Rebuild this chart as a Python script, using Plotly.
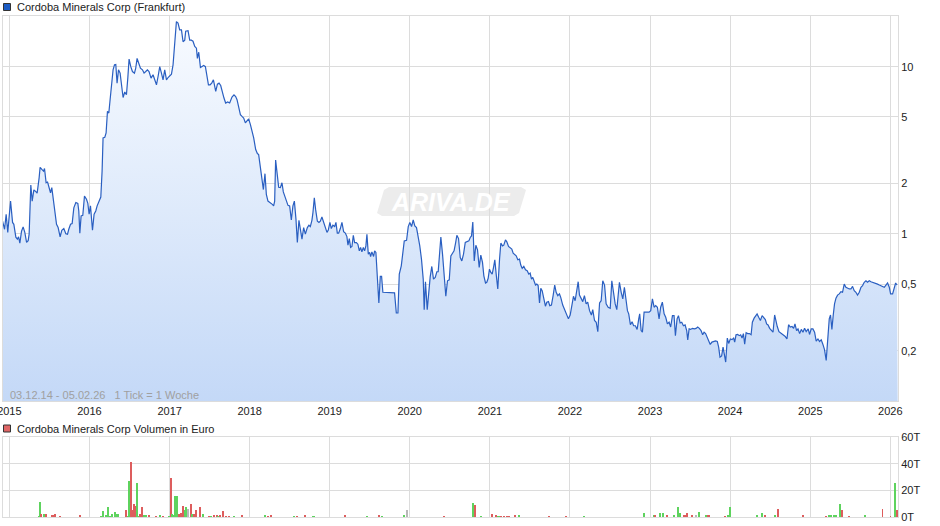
import pandas as pd
import plotly.graph_objects as go

# ---------------- data ----------------
price_years = [
2014.915,2014.94,2014.96,2014.98,2015.015,2015.04,2015.056,2015.081,2015.10,2015.115,2015.131,2015.152,2015.172,2015.193,2015.215,2015.235,2015.247,2015.268,2015.285,2015.306,
2015.331,2015.347,2015.372,2015.384,2015.406,2015.427,2015.439,2015.459,2015.477,2015.497,2015.514,2015.53,2015.547,2015.568,2015.589,2015.609,2015.634,2015.655,2015.68,2015.705,
2015.726,2015.742,2015.764,2015.784,2015.805,2015.83,2015.855,2015.867,2015.88,2015.896,2015.917,2015.938,2015.963,2015.98,2015.996,2016.013,2016.038,2016.058,2016.079,2016.096,
2016.12,2016.142,2016.158,2016.17,2016.192,2016.208,2016.225,2016.242,2016.258,2016.279,2016.295,2016.313,2016.329,2016.345,2016.363,2016.383,2016.404,2016.42,2016.441,2016.462,
2016.479,2016.495,2016.516,2016.537,2016.562,2016.578,2016.595,2016.62,2016.637,2016.662,2016.682,2016.703,2016.724,2016.744,2016.769,2016.794,2016.819,2016.837,2016.857,2016.878,
2016.899,2016.919,2016.94,2016.962,2016.982,2017.003,2017.024,2017.044,2017.065,2017.086,2017.106,2017.127,2017.149,2017.169,2017.19,2017.202,2017.231,2017.252,2017.273,2017.293,
2017.315,2017.336,2017.348,2017.365,2017.386,2017.406,2017.427,2017.448,2017.468,2017.486,2017.506,2017.527,2017.548,2017.564,2017.577,2017.598,2017.618,2017.639,2017.66,2017.68,
2017.701,2017.726,2017.751,2017.78,2017.805,2017.826,2017.843,2017.868,2017.885,2017.905,2017.926,2017.947,2017.967,2017.988,2018.01,2018.03,2018.051,2018.076,2018.097,2018.113,
2018.135,2018.155,2018.172,2018.192,2018.209,2018.229,2018.259,2018.284,2018.30,2018.313,2018.325,2018.347,2018.363,2018.384,2018.404,2018.421,2018.438,2018.459,2018.479,2018.50,
2018.521,2018.541,2018.559,2018.579,2018.596,2018.616,2018.637,2018.654,2018.675,2018.696,2018.721,2018.741,2018.758,2018.778,2018.791,2018.808,2018.824,2018.846,2018.866,2018.883,
2018.903,2018.924,2018.945,2018.966,2018.983,2019.003,2019.02,2019.04,2019.062,2019.078,2019.095,2019.112,2019.133,2019.153,2019.174,2019.195,2019.215,2019.228,2019.245,2019.261,
2019.278,2019.295,2019.311,2019.333,2019.352,2019.37,2019.386,2019.402,2019.42,2019.436,2019.452,2019.465,2019.482,2019.498,2019.511,2019.527,2019.548,2019.561,2019.577,2019.595,
2019.614,2019.632,2019.648,2019.664,2019.707,2019.748,2019.789,2019.81,2019.832,2019.852,2019.869,2019.894,2019.914,2019.931,2019.96,2019.981,2020.001,2020.022,2020.043,2020.063,
2020.084,2020.105,2020.125,2020.146,2020.168,2020.18,2020.196,2020.218,2020.238,2020.255,2020.275,2020.296,2020.318,2020.338,2020.355,2020.388,2020.409,2020.43,2020.45,2020.471,
2020.493,2020.513,2020.531,2020.553,2020.573,2020.588,2020.609,2020.63,2020.65,2020.671,2020.693,2020.713,2020.738,2020.755,2020.771,2020.787,2020.805,2020.825,2020.846,2020.867,
2020.887,2020.908,2020.925,2020.946,2020.962,2020.979,2020.995,2021.012,2021.029,2021.046,2021.062,2021.079,2021.099,2021.121,2021.137,2021.158,2021.174,2021.195,2021.212,2021.233,
2021.254,2021.274,2021.291,2021.311,2021.329,2021.349,2021.37,2021.386,2021.404,2021.424,2021.445,2021.466,2021.486,2021.503,2021.52,2021.536,2021.553,2021.57,2021.586,2021.603,
2021.62,2021.636,2021.653,2021.673,2021.694,2021.711,2021.732,2021.748,2021.769,2021.79,2021.81,2021.828,2021.848,2021.869,2021.885,2021.91,2021.935,2021.957,2021.981,2022.003,
2022.023,2022.044,2022.065,2022.086,2022.103,2022.119,2022.14,2022.16,2022.181,2022.202,2022.222,2022.245,2022.268,2022.285,2022.307,2022.328,2022.348,2022.37,2022.39,2022.41,
2022.432,2022.452,2022.477,2022.503,2022.523,2022.543,2022.565,2022.585,2022.606,2022.618,2022.64,2022.66,2022.68,2022.70,2022.718,2022.734,2022.755,2022.776,2022.795,2022.817,
2022.839,2022.859,2022.871,2022.889,2022.905,2022.926,2022.946,2022.967,2022.988,2023.009,2023.03,2023.051,2023.071,2023.092,2023.113,2023.133,2023.154,2023.176,2023.196,2023.217,
2023.238,2023.258,2023.28,2023.30,2023.317,2023.338,2023.355,2023.376,2023.396,2023.417,2023.438,2023.458,2023.471,2023.488,2023.508,2023.529,2023.554,2023.575,2023.595,2023.616,
2023.637,2023.657,2023.675,2023.694,2023.712,2023.732,2023.752,2023.773,2023.793,2023.818,2023.84,2023.857,2023.874,2023.894,2023.912,2023.928,2023.945,2023.965,2023.982,2024.003,
2024.024,2024.044,2024.057,2024.074,2024.094,2024.115,2024.132,2024.149,2024.166,2024.182,2024.20,2024.22,2024.241,2024.262,2024.278,2024.30,2024.316,2024.337,2024.357,2024.378,
2024.40,2024.42,2024.44,2024.456,2024.474,2024.494,2024.515,2024.536,2024.556,2024.573,2024.589,2024.61,2024.63,2024.652,2024.673,2024.689,2024.71,2024.73,2024.751,2024.773,
2024.793,2024.81,2024.83,2024.848,2024.868,2024.889,2024.91,2024.93,2024.95,2024.975,2024.992,2025.013,2025.034,2025.055,2025.075,2025.097,2025.117,2025.138,2025.159,2025.179,
2025.20,2025.222,2025.238,2025.254,2025.271,2025.288,2025.304,2025.322,2025.342,2025.363,2025.384,2025.404,2025.425,2025.446,2025.466,2025.488,2025.509,2025.529,2025.55,2025.571,
2025.591,2025.613,2025.634,2025.654,2025.675,2025.696,2025.716,2025.738,2025.759,2025.779,2025.80,2025.821,2025.841,2025.863,2025.883,2025.904,2025.925,2025.946,2025.966,2025.988,
2026.004,2026.029,2026.05,2026.067,2026.084]

price_eur = [
1.19,1.065,1.31,1.02,1.57,1.17,1.14,0.955,0.93,0.96,0.88,1.036,1.10,1.02,0.89,0.91,0.995,1.96,1.57,1.83,
1.79,1.75,2.17,2.50,2.43,2.37,2.46,2.02,2.04,1.89,1.76,1.89,1.65,1.37,1.14,1.09,0.96,1.05,1.075,1.0,
0.995,1.065,1.14,1.15,1.43,1.54,1.52,1.37,1.01,1.28,1.29,1.68,1.61,1.52,1.31,1.47,1.05,1.31,1.37,1.47,
1.57,1.66,2.37,3.75,3.78,4.02,5.40,5.28,6.34,7.97,9.57,10.25,10.3,7.97,9.57,9.15,7.27,6.54,7.05,6.79,
8.54,11.1,10.0,9.35,9.15,9.8,11.2,10.5,9.8,9.57,9.15,9.35,9.57,9.35,8.54,8.94,8.34,7.79,8.73,10.0,
9.15,8.34,9.57,8.34,8.61,8.85,9.02,10.25,13.2,18.6,18.2,16.6,16.6,14.1,14.4,16.3,16.4,14.4,14.4,14.2,
13.2,12.9,11.2,12.2,9.88,10.0,10.15,10.0,8.94,7.79,7.79,7.97,8.34,7.61,7.11,7.86,7.97,7.71,6.95,6.49,
6.06,6.15,6.06,6.58,6.79,6.63,6.34,5.66,5.16,5.04,4.93,4.61,4.77,4.87,4.50,4.10,3.75,3.19,3.02,2.98,
2.43,2.02,1.84,2.29,1.72,1.57,1.54,1.50,1.47,1.57,2.76,2.21,1.90,1.89,2.02,1.78,1.70,1.59,1.48,1.47,
1.21,1.47,1.57,1.22,0.887,1.205,1.065,0.93,1.09,0.995,1.09,1.125,1.105,1.205,1.34,1.64,1.40,1.19,1.17,1.19,
1.26,1.17,1.105,1.02,1.055,1.17,1.075,1.125,1.105,1.17,1.01,1.01,1.075,1.17,1.03,1.01,0.963,0.855,0.937,0.829,
0.84,0.98,0.887,0.887,0.867,0.791,0.829,0.78,0.829,0.791,0.847,0.995,0.756,0.774,0.732,0.78,0.732,0.791,0.774,0.536,
0.386,0.557,0.557,0.447,0.447,0.447,0.443,0.443,0.336,0.336,0.574,0.644,0.774,0.907,0.916,1.105,1.17,1.105,1.21,1.115,
1.09,0.97,0.847,0.706,0.536,0.352,0.517,0.352,0.468,0.553,0.638,0.536,0.549,0.593,0.593,0.958,0.756,0.524,0.423,0.524,
0.531,0.738,0.756,0.791,0.887,0.98,0.937,0.722,0.689,0.756,0.887,0.895,0.907,0.951,0.972,1.177,0.689,0.855,0.802,0.63,
0.746,0.675,0.561,0.508,0.513,0.542,0.615,0.588,0.574,0.63,0.699,0.574,0.468,0.706,0.879,0.847,0.855,0.92,0.895,0.84,
0.829,0.81,0.766,0.746,0.738,0.699,0.706,0.65,0.621,0.638,0.609,0.601,0.574,0.582,0.536,0.549,0.517,0.494,0.50,0.49,
0.386,0.472,0.457,0.408,0.369,0.39,0.393,0.372,0.375,0.427,0.494,0.447,0.427,0.437,0.417,0.375,0.352,0.332,0.31,0.327,
0.375,0.423,0.398,0.447,0.517,0.43,0.408,0.393,0.427,0.381,0.39,0.347,0.327,0.352,0.303,0.296,0.26,0.386,0.398,0.524,
0.494,0.381,0.364,0.359,0.524,0.437,0.381,0.352,0.479,0.513,0.447,0.408,0.479,0.408,0.347,0.332,0.286,0.298,0.282,0.282,
0.268,0.31,0.332,0.264,0.258,0.34,0.34,0.343,0.34,0.347,0.408,0.364,0.372,0.364,0.31,0.364,0.39,0.332,0.317,0.289,
0.296,0.277,0.324,0.324,0.246,0.31,0.324,0.293,0.296,0.282,0.285,0.264,0.232,0.27,0.268,0.272,0.27,0.272,0.277,0.272,
0.264,0.249,0.258,0.253,0.241,0.233,0.218,0.225,0.227,0.229,0.227,0.21,0.183,0.186,0.21,0.186,0.171,0.238,0.221,0.235,
0.233,0.238,0.225,0.249,0.25,0.246,0.249,0.238,0.253,0.219,0.256,0.253,0.253,0.249,0.296,0.313,0.324,0.332,0.317,0.303,
0.324,0.313,0.307,0.289,0.285,0.272,0.264,0.258,0.327,0.296,0.279,0.26,0.256,0.25,0.246,0.243,0.235,0.286,0.277,0.279,
0.272,0.289,0.264,0.27,0.253,0.268,0.258,0.272,0.26,0.27,0.25,0.27,0.27,0.258,0.228,0.235,0.227,0.232,0.218,0.203,
0.175,0.241,0.31,0.327,0.268,0.327,0.381,0.412,0.43,0.437,0.451,0.447,0.50,0.479,0.472,0.468,0.468,0.485,0.457,0.447,
0.43,0.447,0.479,0.49,0.513,0.524,0.513,0.524,0.517,0.513,0.513,0.508,0.50,0.494,0.49,0.485,0.479,0.494,0.508,0.479,
0.437,0.437,0.468,0.508,0.494]

volume_years = [
2015.364,2015.384,2015.397,2015.434,2015.455,2015.527,2015.555,2015.571,2015.634,2015.883,
2016.146,2016.170,2016.204,2016.233,2016.254,2016.283,2016.316,2016.345,2016.358,2016.457,
2016.482,2016.495,2016.520,2016.532,2016.557,2016.570,2016.595,2016.612,2016.632,2016.657,
2016.682,2016.707,2016.741,2016.837,2016.887,2016.919,2016.994,2017.019,2017.031,2017.056,
2017.074,2017.094,2017.111,2017.124,2017.140,2017.174,2017.194,2017.206,2017.227,2017.268,
2017.286,2017.302,2017.336,2017.377,2017.418,2017.489,2017.502,2017.523,2017.556,2017.589,
2017.602,2017.627,2017.668,2017.705,2017.743,2017.805,2017.905,2018.197,2018.229,2018.272,
2018.554,2018.591,2018.691,2018.791,2018.803,2019.190,2019.465,2019.614,2019.657,2019.931,
2019.964,2020.425,2020.787,2020.812,2020.892,2021.024,2021.079,2021.099,2021.120,2021.142,
2021.174,2021.212,2021.237,2021.311,2021.361,2021.744,2021.953,2022.172,2022.921,2023.046,
2023.058,2023.129,2023.158,2023.213,2023.295,2023.345,2023.370,2023.420,2023.441,2023.458,
2023.520,2023.579,2023.616,2023.695,2023.725,2023.737,2023.941,2023.974,2024.003,2024.331,
2024.393,2024.431,2024.561,2024.593,2024.905,2025.192,2025.230,2025.255,2025.292,2025.317,
2025.367,2025.392,2025.479,2025.688,2025.903,2026.003,2026.065,2026.083]

volume_teur = [
0.5,11.5,2.2,2.2,2.0,1.3,1.3,2.0,0.6,1.5,
0.6,4.5,1.3,7.5,0.6,2.6,4.0,2.2,2.2,5.3,
0.6,27.0,41.5,5.3,9.5,8.3,25.7,0.6,2.5,7.5,
1.5,1.5,1.3,0.6,1.5,0.6,0.6,29.0,2.5,1.5,
15.7,15.7,0.6,2.5,3.0,8.5,5.3,7.3,5.8,9.5,
2.5,2.0,5.3,7.3,2.5,0.6,0.6,0.6,1.8,1.3,
0.6,1.3,4.7,0.6,0.6,0.6,1.3,1.3,0.6,1.3,
0.6,0.6,1.3,0.6,0.6,1.3,0.6,1.3,0.6,1.3,
5.3,0.6,10.7,9.0,0.6,2.3,1.8,0.6,0.6,0.6,
0.6,0.6,0.6,1.3,1.3,0.6,0.6,0.6,3.0,1.3,
1.3,3.0,3.0,1.3,1.3,7.2,3.0,1.3,1.8,3.0,
1.3,1.3,4.0,1.3,1.8,1.8,0.6,1.8,7.7,1.3,
3.0,1.8,1.8,6.0,1.3,0.6,1.8,1.8,1.8,1.3,
9.8,5.3,0.6,1.3,6.0,0.6,25.7,5.3]

volume_dir = [
"g","g","r","g","r","r","r","r","r","r",
"g","g","g","g","g","g","g","g","g","r",
"g","g","r","r","r","r","g","g","r","r",
"g","g","r","r","g","r","g","r","g","g",
"g","g","g","r","r","r","g","g","n","r",
"g","r","r","r","g","r","r","g","r","r",
"g","r","r","r","r","g","r","g","r","r",
"g","r","r","g","g","r","g","r","g","g",
"n","r","g","r","g","r","r","g","g","r",
"r","r","r","r","g","r","r","g","g","g",
"r","g","g","r","g","g","g","r","r","r",
"r","n","g","g","r","r","r","g","g","g",
"g","r","g","r","r","r","g","g","g","g",
"g","r","r","g","r","r","g","r"]

price_axis_ticks = [0.2, 0.5, 1, 2, 5, 10]
price_axis_labels = ["0,2", "0,5", "1", "2", "5", "10"]
volume_axis_ticks = [0, 20, 40, 60]
volume_axis_labels = ["0T", "20T", "40T", "60T"]
year_ticks = list(range(2015, 2027))
date_start, date_end = "2014-12-03", "2026-02-05"

# ---------------- helpers ----------------
W, H = 940, 526
FONT = "Liberation Sans, Arial, sans-serif"


def to_date(years):
    base = pd.Timestamp("2015-01-01")
    return [base + pd.to_timedelta((y - 2015) * 365.25, unit="D") for y in years]


def px(x):
    return x / W


def py(y):
    return 1 - y / H


price_dates = to_date(price_years)
volume_dates = to_date(volume_years)
dir_colors = {"g": "#5ed35e", "r": "#dd5d5d", "n": "#b8b8b8"}

fig = go.Figure()

# invisible baseline for the area fill
fig.add_trace(go.Scatter(
    x=[date_start, date_end], y=[0.05, 0.05], mode="lines",
    line=dict(width=0, color="rgba(0,0,0,0)"), hoverinfo="skip",
    showlegend=False, xaxis="x", yaxis="y"))

fig.add_trace(go.Scatter(
    x=price_dates, y=price_eur, mode="lines", fill="tonexty",
    line=dict(color="#2a5fc1", width=1.2),
    fillgradient=dict(type="vertical",
                      colorscale=[[0, "#bdd4f6"], [1, "#f8fbff"]]),
    showlegend=False, xaxis="x", yaxis="y", name="Cordoba Minerals Corp"))

fig.add_trace(go.Bar(
    x=volume_dates, y=volume_teur,
    marker=dict(color=[dir_colors[d] for d in volume_dir], line=dict(width=0)),
    width=4.5 * 86400000, showlegend=False, xaxis="x2", yaxis="y2"))

grid = "#dcdcdc"
xdom = [px(3), px(898)]
tickvals = [f"{y}-01-01" for y in year_ticks]
ticktext = [str(y) for y in year_ticks]
axis_common = dict(showgrid=True, gridcolor=grid, gridwidth=1,
                   showline=True, linecolor=grid, mirror=True,
                   ticks="", zeroline=False, automargin=False,
                   ticklabeloverflow="allow",
                   tickfont=dict(size=11, color="#222222"))

fig.update_layout(
    width=W, height=H,
    margin=dict(l=0, r=0, t=0, b=0, pad=0, autoexpand=False),
    paper_bgcolor="white", plot_bgcolor="white",
    font=dict(family=FONT, size=11, color="#222222"),
    bargap=0, showlegend=False,
    xaxis=dict(domain=xdom, anchor="y", type="date",
               range=[date_start, date_end],
               tickmode="array", tickvals=tickvals, ticktext=ticktext,
               **axis_common),
    yaxis=dict(domain=[py(401), py(16)], anchor="x", type="log",
               range=[-1, 1.303], side="right",
               tickmode="array", tickvals=price_axis_ticks,
               ticktext=price_axis_labels, **axis_common),
    xaxis2=dict(domain=xdom, anchor="y2", type="date",
                range=[date_start, date_end], matches="x",
                tickmode="array", tickvals=tickvals,
                showticklabels=False, **axis_common),
    yaxis2=dict(domain=[py(517), py(437)], anchor="x2",
                range=[0, 60], side="right",
                tickmode="array", tickvals=volume_axis_ticks,
                ticktext=volume_axis_labels, **axis_common),
)

# legend-like headers
shapes = [
    dict(type="rect", xref="paper", yref="paper",
         x0=px(3.5), x1=px(10.5), y0=py(10.5), y1=py(3.5),
         fillcolor="#1c5cc4", line=dict(color="#333333", width=1)),
    dict(type="rect", xref="paper", yref="paper",
         x0=px(3.5), x1=px(10.5), y0=py(432), y1=py(425),
         fillcolor="#e06666", line=dict(color="#333333", width=1)),
]

# watermark badge (slanted rounded parallelogram)
pts = [(389, 187), (521, 187), (526, 190), (519, 213), (514, 216),
       (382, 216), (377, 213), (384, 190)]
path = "M " + " L ".join(f"{px(a):.5f},{py(b):.5f}" for a, b in pts) + " Z"
shapes.append(dict(type="path", xref="paper", yref="paper", path=path,
                   fillcolor="#ececec", line=dict(width=0), layer="between"))
fig.update_layout(shapes=shapes)

annotations = [
    dict(text="Cordoba Minerals Corp (Frankfurt)", x=px(15), y=py(7),
         xanchor="left", yanchor="middle", showarrow=False,
         font=dict(size=11, color="#222222")),
    dict(text="Cordoba Minerals Corp Volumen in Euro", x=px(15), y=py(428.5),
         xanchor="left", yanchor="middle", showarrow=False,
         font=dict(size=11, color="#222222")),
    dict(text="03.12.14 - 05.02.26&nbsp;&nbsp;&nbsp;1 Tick = 1 Woche",
         x=px(8), y=py(395), xanchor="left", yanchor="middle",
         showarrow=False, font=dict(size=11, color="#a0a0a0")),
    dict(text="<b><i>ARIVA.DE</i></b>", x=px(451), y=py(202),
         xanchor="center", yanchor="middle", showarrow=False,
         font=dict(size=25, color="#ffffff")),
]
for a in annotations:
    a.update(xref="paper", yref="paper")
fig.update_layout(annotations=annotations)

fig.write_html("out.html",
               config={"displayModeBar": False},
               post_script="document.body.style.margin='0px';"
                           "document.body.style.overflow='hidden';")
